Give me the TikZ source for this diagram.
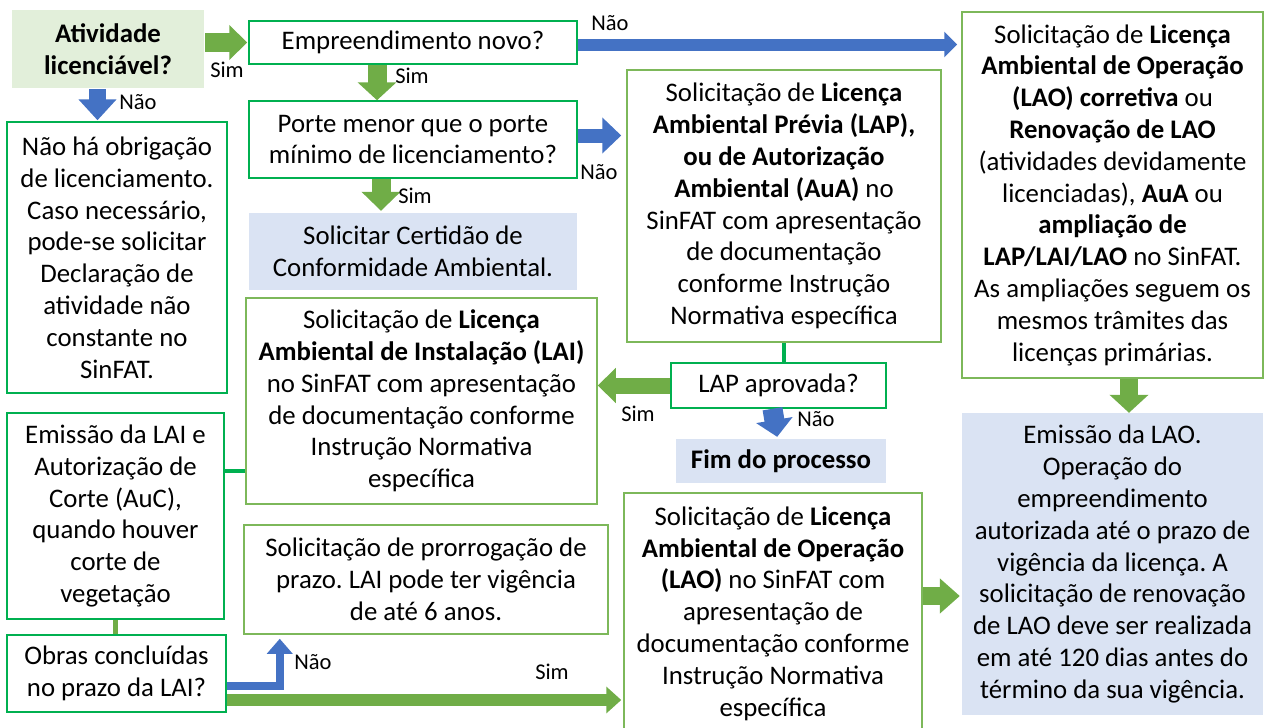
\documentclass[tikz,border=0pt]{standalone}
\usepackage{fontspec}
\setmainfont{Carlito}
\usetikzlibrary{arrows.meta,calc}
\definecolor{arrg}{HTML}{70AD47}
\definecolor{arrb}{HTML}{4472C4}
\definecolor{darkg}{HTML}{00B050}
\definecolor{lightg}{HTML}{7DB85A}
\definecolor{fillb}{HTML}{DAE3F3}
\definecolor{fillg}{HTML}{E2EFDA}
\frenchspacing
\tikzset{
  txt/.style={align=center, inner sep=0pt, font=\fontsize{26.8}{31.8}\selectfont},
  dbox/.style={txt, draw=darkg, line width=1.5pt},
  lbox/.style={txt, draw=lightg, line width=1.5pt},
  bfill/.style={txt, fill=fillb},
  gfill/.style={txt, fill=fillg},
  lbl/.style={inner sep=0pt, font=\fontsize{22.5}{25}\selectfont},
  blk/.style n args={4}{draw=#1, line width=#2, -{Triangle[width=#3, length=#4]}},
  link/.style={draw=#1, line width=4.5pt},
}
\begin{document}
\begin{tikzpicture}[x=1pt,y=-1pt]
\useasboundingbox (0,0) rectangle (1264,728);
% nodes
\node[gfill, minimum width=192, minimum height=78] (ativ) at (108,49) {\textbf{Atividade}\\\textbf{licenciável?}};
\node[dbox, minimum width=328, minimum height=43] (emp) at (413,42.5) {Empreendimento novo?};
\node[dbox, minimum width=328, minimum height=77] (porte) at (413,139.5) {Porte menor que o porte\\mínimo de licenciamento?};
\node[bfill, minimum width=328, minimum height=77] (cert) at (413,251.5) {Solicitar Certidão de\\Conformidade Ambiental.};
\node[lbox, minimum width=314, minimum height=272] (lap) at (784,206) {Solicitação de \textbf{Licença}\\\textbf{Ambiental Prévia (LAP),}\\\textbf{ou de Autorização}\\\textbf{Ambiental (AuA)} no\\SinFAT com apresentação\\de documentação\\conforme Instrução\\Normativa específica};
\node[lbox, minimum width=301, minimum height=366] (right) at (1112.5,195) {Solicitação de \textbf{Licença}\\\textbf{Ambiental de Operação}\\\textbf{(LAO) corretiva} ou\\\textbf{Renovação de LAO}\\(atividades devidamente\\licenciadas), \textbf{AuA} ou\\\textbf{ampliação de}\\\textbf{LAP/LAI/LAO} no SinFAT.\\As ampliações seguem os\\mesmos trâmites das\\licenças primárias.};
\node[dbox, minimum width=215, minimum height=45] (lapok) at (778.5,385.5) {LAP aprovada?};
\node[bfill, minimum width=210, minimum height=44] (fim) at (781,461) {\textbf{Fim do processo}};
\node[dbox, minimum width=220, minimum height=271] (nao) at (117,257.5) {Não há obrigação\\de licenciamento.\\Caso necessário,\\pode-se solicitar\\Declaração de\\atividade não\\constante no\\SinFAT.};
\node[lbox, minimum width=351, minimum height=206] (lai) at (421.5,401) {Solicitação de \textbf{Licença}\\\textbf{Ambiental de Instalação (LAI)}\\no SinFAT com apresentação\\de documentação conforme\\Instrução Normativa\\específica};
\node[dbox, minimum width=217, minimum height=206] (emlai) at (115.5,516) {Emissão da LAI e\\Autorização de\\Corte (AuC),\\quando houver\\corte de\\vegetação};
\node[dbox, minimum width=219, minimum height=77] (obras) at (116.5,673.5) {Obras concluídas\\no prazo da LAI?};
\node[lbox, minimum width=364, minimum height=109] (pror) at (426,579.5) {Solicitação de prorrogação de\\prazo. LAI pode ter vigência\\de até 6 anos.};
\node[lbox, minimum width=298, minimum height=241] (lao) at (773,613.5) {Solicitação de \textbf{Licença}\\\textbf{Ambiental de Operação}\\\textbf{(LAO)} no SinFAT com\\apresentação de\\documentação conforme\\Instrução Normativa\\específica};
\node[bfill, minimum width=301, minimum height=302] (emlao) at (1112.5,564) {Emissão da LAO.\\Operação do\\empreendimento\\autorizada até o prazo de\\vigência da licença. A\\solicitação de renovação\\de LAO deve ser realizada\\em até 120 dias antes do\\término da sua vigência.};
% connectors
\draw[blk={arrg}{19pt}{34pt}{18pt}, shorten <=1pt, shorten >=1pt] (ativ.east |- emp.west) -- (emp.west);
\draw[blk={arrb}{12pt}{25pt}{13pt}, shorten >=4pt] ($(emp.east)+(0,2)$) -- ($(right.west |- emp.east)+(0,2)$);
\draw[blk={arrg}{19pt}{38pt}{18pt}] ($(emp.south)+(-36,0)$) -- ($(porte.north)+(-36,0)$);
\draw[blk={arrb}{14pt}{35pt}{19pt}, shorten >=5pt] ($(porte.east)+(0,-4)$) -- ($(lap.west |- porte.east)+(0,-4)$);
\draw[blk={arrg}{19pt}{38pt}{19pt}, shorten >=2pt] ($(porte.south)+(-32,0)$) -- ($(cert.north)+(-32,0)$);
\draw[link=darkg] (lap.south) -- (lap.south |- lapok.north);
\draw[blk={arrg}{16pt}{34pt}{18pt}] (lapok.west) -- (lapok.west -| lai.east);
\draw[blk={arrb}{20pt}{36pt}{17pt}, shorten >=2pt] ($(lapok.south)+(-6,0)$) -- ($(fim.north)+(-3.5,0)$);
\draw[blk={arrb}{17pt}{37pt}{21pt}, shorten <=1pt, shorten >=1pt] ($(ativ.south)+(-10.5,0)$) -- ($(nao.north)+(-19.5,0)$);
\draw[link=darkg] ($(lai.west)+(0,70)$) -- ($(emlai.east |- lai.west)+(0,70)$);
\draw[link=arrg] ($(emlai.south)+(0,0)$) -- ($(obras.north)+(-1,0)$);
\draw[blk={arrb}{8pt}{25pt}{15pt}, line join=miter, shorten >=4pt] ($(obras.east)+(0,12.5)$) -| ($(pror.south west)+(36.5,0)$);
\draw[blk={arrg}{12pt}{26pt}{15pt}, shorten >=2pt] ($(obras.east)+(0,26.5)$) -- ($(lao.west |- obras.east)+(0,26.5)$);
\draw[blk={arrg}{18pt}{34pt}{20pt}, shorten >=2pt] ($(lao.east)+(0,-17.5)$) -- ($(emlao.west |- lao.east)+(0,-17.5)$);
\draw[blk={arrg}{18pt}{38pt}{18pt}] ($(right.south)+(16.5,0)$) -- ($(emlao.north)+(16.5,0)$);
% labels
\node[lbl] (l1) at (227,70) {Sim};
\node[lbl] (l2) at (610,23) {Não};
\node[lbl] (l3) at (412,76) {Sim};
\node[lbl] (l4) at (599,172) {Não};
\node[lbl] (l5) at (415,196) {Sim};
\node[lbl] (l6) at (638,414) {Sim};
\node[lbl] (l7) at (816,419) {Não};
\node[lbl] (l8) at (138,102) {Não};
\node[lbl] (l9) at (313,662) {Não};
\node[lbl] (l10) at (552,672) {Sim};
\end{tikzpicture}
\end{document}
